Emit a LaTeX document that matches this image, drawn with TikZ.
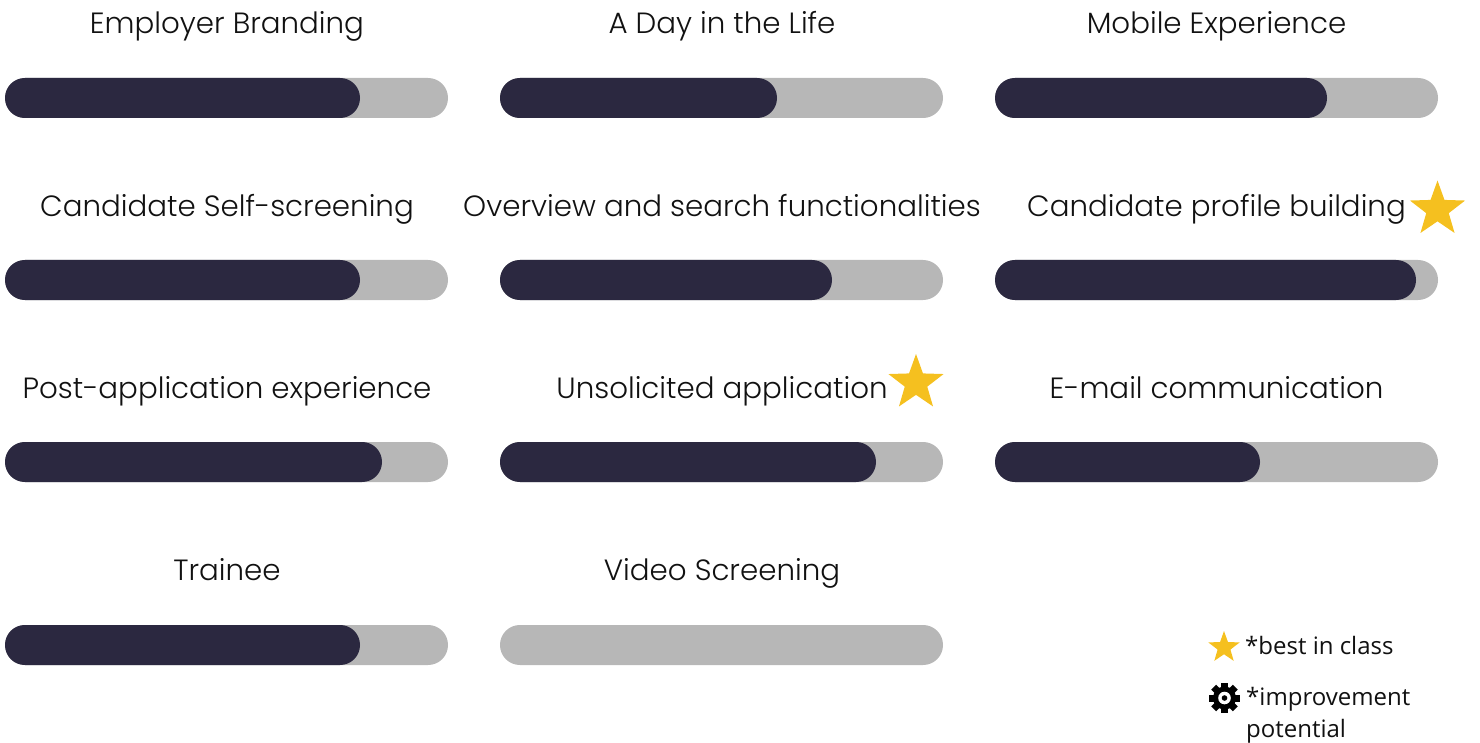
\documentclass[tikz,border=0pt]{standalone}
\usepackage{fontspec}
\setmainfont{Poppins Light}
\newfontfamily\legendfont{Open Sans}
\usetikzlibrary{shapes.geometric}
\definecolor{trackgrey}{HTML}{B7B7B7}
\definecolor{barnavy}{HTML}{2B2840}
\definecolor{stargold}{HTML}{F5C01F}
\definecolor{textblack}{HTML}{111111}
\tikzset{
  x=1pt,y=-1pt,
  track/.style={anchor=north west,inner sep=0pt,outer sep=0pt,fill=trackgrey,rounded corners=19.9pt,minimum height=40pt,minimum width=443pt},
  level/.style={anchor=north west,inner sep=0pt,outer sep=0pt,fill=barnavy,rounded corners=19.9pt,minimum height=40pt},
  heading/.style={inner sep=0pt,text=textblack,font=\fontsize{29.3}{32}\selectfont,anchor=base},
  legendtext/.style={inner sep=0pt,text=textblack,font=\legendfont\fontsize{24}{32}\selectfont,anchor=base west,align=left},
  bigstar/.style={star,star points=5,star point ratio=2.45,fill=stargold,inner sep=0pt,minimum size=58pt},
  smallstar/.style={star,star points=5,star point ratio=2.45,fill=stargold,inner sep=0pt,minimum size=33pt},
}
\begin{document}
\begin{tikzpicture}
\useasboundingbox (0,0) rectangle (1480,743);
% headings
\node[heading] (h1) at (227,33.5) {Employer Branding};
\node[heading] (h2) at (722,33.5) {A Day in the Life};
\node[heading] (h3) at (1216.5,33.5) {Mobile Experience};
\node[heading] (h4) at (227,216.5) {Candidate Self-screening};
\node[heading] (h5) at (722,216.5) {Overview and search functionalities};
\node[heading] (h6) at (1216.5,216.5) {Candidate profile building};
\node[heading] (h7) at (227,398.5) {Post-application experience};
\node[heading] (h8) at (722,398.5) {Unsolicited application};
\node[heading] (h9) at (1216.5,398.5) {E-mail communication};
\node[heading] (h10) at (227,580.5) {Trainee};
\node[heading] (h11) at (722,580.5) {Video Screening};
% tracks
\node[track] (t1) at (5,78) {};
\node[track] (t2) at (500,78) {};
\node[track] (t3) at (995,78) {};
\node[track] (t4) at (5,260) {};
\node[track] (t5) at (500,260) {};
\node[track] (t6) at (995,260) {};
\node[track] (t7) at (5,442) {};
\node[track] (t8) at (500,442) {};
\node[track] (t9) at (995,442) {};
\node[track] (t10) at (5,625) {};
\node[track] (t11) at (500,625) {};
% levels
\node[level,minimum width=355pt] (l1) at (5,78) {};
\node[level,minimum width=277pt] (l2) at (500,78) {};
\node[level,minimum width=332pt] (l3) at (995,78) {};
\node[level,minimum width=355pt] (l4) at (5,260) {};
\node[level,minimum width=332pt] (l5) at (500,260) {};
\node[level,minimum width=421pt] (l6) at (995,260) {};
\node[level,minimum width=377pt] (l7) at (5,442) {};
\node[level,minimum width=376pt] (l8) at (500,442) {};
\node[level,minimum width=265pt] (l9) at (995,442) {};
\node[level,minimum width=355pt] (l10) at (5,625) {};
% stars
\node[bigstar] (s1) at (1437.5,209.5) {};
\node[bigstar] (s2) at (916,383) {};
\node[smallstar] (s3) at (1224,647.5) {};
% gear
\fill[black] (1224.5,698) circle (11.5);
\foreach \a in {0,45,...,315}{
  \fill[black,rotate around={\a:(1224.5,698)}] (1221,682.7) rectangle (1228,692);
}
\fill[white] (1224.5,698) circle (6.3);
\fill[black] (1224.5,698) circle (2.8);
% legend
\node[legendtext] (lg1) at (1245,654) {*best in class};
\node[legendtext,anchor=north west] (lg2) at (1246,687) {*improvement\\potential};
\end{tikzpicture}
\end{document}
